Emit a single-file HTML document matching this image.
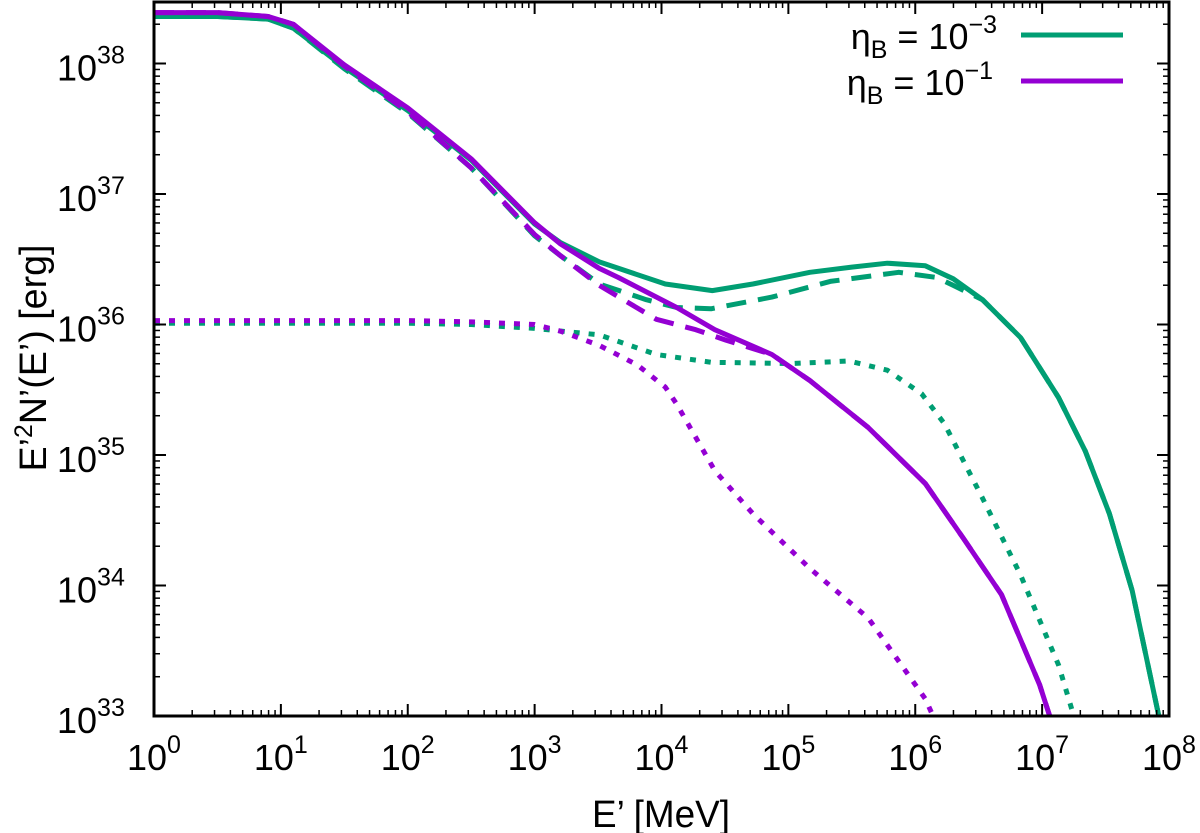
<!DOCTYPE html>
<html><head><meta charset="utf-8"><style>body{margin:0;background:#fff}svg{display:block}text{font-family:"Liberation Sans",sans-serif;fill:#000}</style></head>
<body>
<svg id="c" width="1200" height="833" viewBox="0 0 1200 833">
<g id="plot"></g>
<rect x="154" y="2" width="1015" height="714" fill="none" stroke="#000" stroke-width="3"/>
<g id="axes"></g>
<text x="661" y="827" font-size="38" text-anchor="middle" textLength="138" lengthAdjust="spacingAndGlyphs">E’ [MeV]</text>
<text transform="translate(46,358) rotate(-90)" font-size="38" text-anchor="middle" textLength="227" lengthAdjust="spacingAndGlyphs">E’<tspan font-size="25" dy="-14">2</tspan><tspan dy="14">N’(E’) [erg]</tspan></text>
<g>
<text x="997" y="49" font-size="36" text-anchor="end">η<tspan font-size="25" dy="9">B</tspan><tspan dy="-9"> = 10</tspan><tspan font-size="25" dy="-16">−3</tspan></text>
<line x1="1021" y1="35" x2="1123" y2="35" stroke="#009e73" stroke-width="5"/>
<text x="993" y="95" font-size="36" text-anchor="end">η<tspan font-size="25" dy="9">B</tspan><tspan dy="-9"> = 10</tspan><tspan font-size="25" dy="-16">−1</tspan></text>
<line x1="1021" y1="81" x2="1123" y2="81" stroke="#9400d3" stroke-width="5"/>
</g>
</svg>
<script>
const xTicks=[0,1,2,3,4,5,6,7,8];
const yTicks=[33,34,35,36,37,38];
const greenSolid=[[0,38.36],[0.5,38.36],[0.9,38.34],[1.1,38.27],[1.5,37.97],[2,37.64],[2.5,37.26],[3,36.77],[3.2,36.63],[3.51,36.48],[4.03,36.31],[4.4,36.26],[4.72,36.31],[5.17,36.4],[5.5,36.44],[5.78,36.47],[6.08,36.45],[6.3,36.35],[6.53,36.19],[6.83,35.9],[7.13,35.44],[7.34,35.03],[7.53,34.55],[7.71,33.96],[7.92,33.0]];
const greenDashed=[[0,38.36],[0.5,38.36],[0.9,38.34],[1.1,38.27],[1.5,37.96],[2,37.62],[2.5,37.2],[3,36.68],[3.2,36.53],[3.51,36.31],[3.88,36.19],[4.12,36.13],[4.39,36.12],[4.87,36.21],[5.33,36.33],[5.87,36.4],[6.17,36.36],[6.3,36.3],[6.53,36.19],[6.83,35.9],[7.13,35.44],[7.34,35.03],[7.53,34.55],[7.71,33.96],[7.92,33.0]];
const greenDotted=[[0,36.01],[1,36.01],[2,36.01],[2.5,36.0],[3,35.97],[3.51,35.92],[3.96,35.77],[4.39,35.71],[5.02,35.7],[5.48,35.72],[5.78,35.65],[6.05,35.47],[6.23,35.24],[6.53,34.67],[6.83,34.08],[7.13,33.39],[7.25,33.0]];
const purpleSolid=[[0,38.39],[0.5,38.39],[0.9,38.36],[1.1,38.3],[1.5,37.99],[2,37.66],[2.5,37.27],[3,36.78],[3.2,36.62],[3.51,36.43],[3.66,36.36],[4.12,36.13],[4.42,35.96],[4.87,35.77],[5.17,35.57],[5.63,35.21],[6.08,34.78],[6.38,34.36],[6.68,33.93],[6.98,33.24],[7.06,33.0]];
const purpleDashed=[[0,38.39],[0.5,38.39],[0.9,38.36],[1.1,38.3],[1.5,37.98],[2,37.63],[2.5,37.2],[3,36.69],[3.2,36.53],[3.51,36.3],[3.96,36.04],[4.27,35.96],[4.51,35.88],[4.87,35.77],[5.17,35.57],[5.63,35.21],[6.08,34.78],[6.38,34.36],[6.68,33.93],[6.98,33.24],[7.06,33.0]];
const purpleDotted=[[0,36.03],[1,36.03],[2,36.03],[2.5,36.02],[3,36.0],[3.2,35.95],[3.51,35.84],[3.81,35.69],[4.03,35.52],[4.12,35.39],[4.42,34.88],[4.72,34.55],[5.17,34.13],[5.63,33.75],[6.08,33.13],[6.14,33.0]];
const NS='http://www.w3.org/2000/svg';
const X=v=>154+v*126.875, Y=v=>716-(v-33)*130.5;
const plot=document.getElementById('plot'), axes=document.getElementById('axes');
function mk(t,a,p){const e=document.createElementNS(NS,t);for(const k in a)e.setAttribute(k,a[k]);p.appendChild(e);return e;}
function line(data,color,dash,name){
  const e=mk('path',{d:data.map((p,i)=>(i?'L':'M')+X(p[0]).toFixed(1)+','+Y(p[1]).toFixed(1)).join(''),fill:'none',stroke:color,'stroke-width':5,'stroke-dasharray':dash,'stroke-linejoin':'round'},plot);
  
  
}
line(greenSolid,'#009e73','none','green-solid-line');
line(greenDashed,'#009e73','20,12','green-dashed-line');
line(greenDotted,'#009e73','6,9','green-dotted-line');
line(purpleSolid,'#9400d3','none','purple-solid-line');
line(purpleDashed,'#9400d3','20,12','purple-dashed-line');
line(purpleDotted,'#9400d3','6,9','purple-dotted-line');
xTicks.forEach(v=>{
  const x=X(v);
  mk('line',{x1:x,y1:716,x2:x,y2:704,stroke:'#000','stroke-width':2},axes);
  mk('line',{x1:x,y1:2,x2:x,y2:14,stroke:'#000','stroke-width':2},axes);
  if(v<8)for(let m=2;m<10;m++){const xm=X(v+Math.log10(m));mk('line',{x1:xm,y1:716,x2:xm,y2:710,stroke:'#000','stroke-width':1.5},axes);mk('line',{x1:xm,y1:2,x2:xm,y2:8,stroke:'#000','stroke-width':1.5},axes);}
  const t=mk('text',{x:x-27,y:770,'font-size':36},axes);
  
  
  t.innerHTML='10<tspan font-size="25" dy="-17">'+v+'</tspan>';
});
yTicks.forEach(v=>{
  const y=Y(v);
  mk('line',{x1:154,y1:y,x2:166,y2:y,stroke:'#000','stroke-width':2},axes);
  mk('line',{x1:1169,y1:y,x2:1157,y2:y,stroke:'#000','stroke-width':2},axes);
  for(let m=2;m<10;m++){const ym=Y(v+Math.log10(m));if(ym<3)break;mk('line',{x1:154,y1:ym,x2:160,y2:ym,stroke:'#000','stroke-width':1.5},axes);mk('line',{x1:1169,y1:ym,x2:1163,y2:ym,stroke:'#000','stroke-width':1.5},axes);}
  const t=mk('text',{x:57,y:y+17,'font-size':36},axes);
  
  
  t.innerHTML='10<tspan font-size="25" dy="-17">'+v+'</tspan>';
});
</script>
</body></html>
